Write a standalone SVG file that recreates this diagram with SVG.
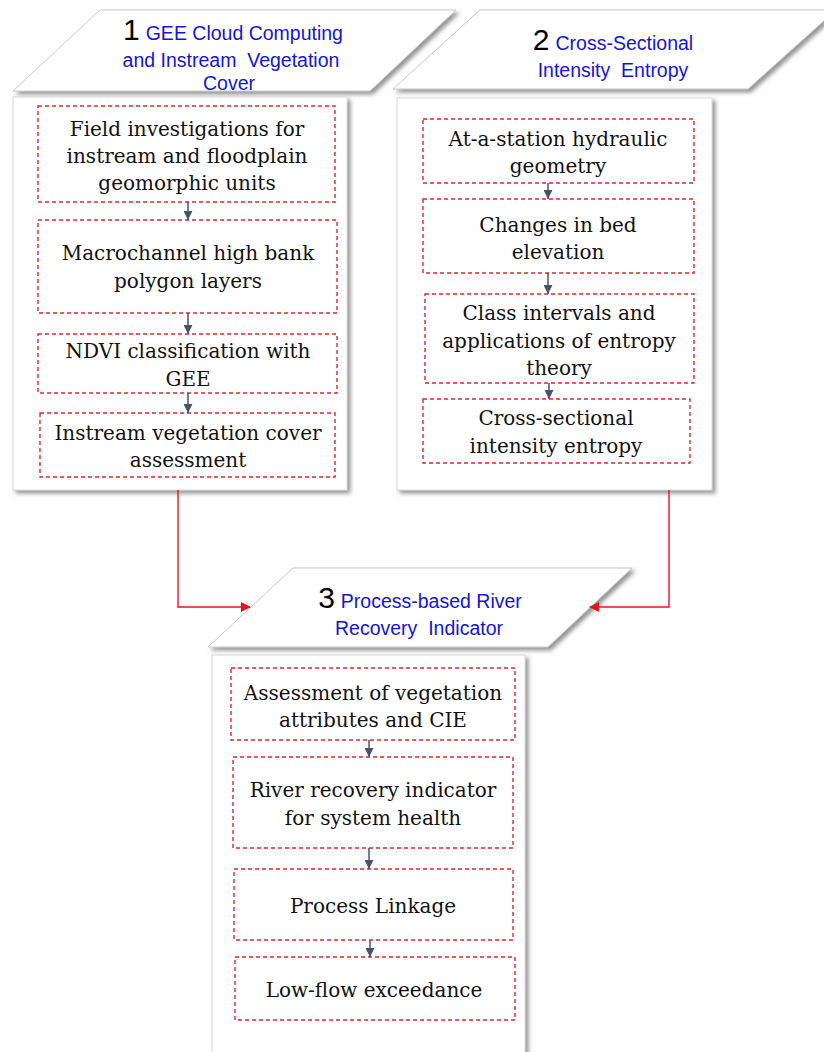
<svg xmlns="http://www.w3.org/2000/svg" width="824" height="1052" viewBox="0 0 824 1052">
<defs>
<filter id="sh" x="-10%" y="-10%" width="125%" height="125%">
<feDropShadow dx="3" dy="3" stdDeviation="2" flood-color="#666" flood-opacity="0.7"/>
</filter>
<marker id="ah" viewBox="0 0 10 10" refX="10" refY="5" markerWidth="10" markerHeight="9" orient="auto" markerUnits="userSpaceOnUse">
<path d="M0,0 L10,5 L0,10 z" fill="#44546A"/>
</marker>
<marker id="ahr" viewBox="0 0 10 10" refX="9" refY="5" markerWidth="11" markerHeight="10" orient="auto" markerUnits="userSpaceOnUse">
<path d="M0,0 L10,5 L0,10 z" fill="#E8141B"/>
</marker>
<style>
.para{fill:#fff;stroke:#c8c8c8;stroke-width:1;filter:url(#sh)}
.panel{fill:#fff;stroke:#d8d8d8;stroke-width:1;filter:url(#sh)}
.dbox{fill:#fff;stroke:#D9272E;stroke-width:1.4;stroke-dasharray:4 3}
.num{font-family:"Liberation Sans",Arial,sans-serif;font-size:30px;fill:#000}
.hd{font-family:"Liberation Sans",Arial,sans-serif;font-size:19.5px;fill:#1414D8}
.t{font-family:"DejaVu Serif",serif;font-size:20px;fill:#111;text-anchor:middle}
.sm{stroke:#44546A;stroke-width:1.5;fill:none;marker-end:url(#ah)}
.red{stroke:#E8141B;stroke-width:1.4;fill:none;marker-end:url(#ahr)}
</style>
</defs>

<g id="header1">
<polygon class="para" points="100,10 456,10 370,91 13,91"/>
<text x="233" y="40" text-anchor="middle"><tspan class="num">1</tspan><tspan class="hd" dx="6">GEE Cloud Computing</tspan></text>
<text class="hd" x="231" y="67" text-anchor="middle">and Instream&#160; Vegetation</text>
<text class="hd" x="229" y="90" text-anchor="middle">Cover</text>
</g>

<g id="header2">
<polygon class="para" points="480,10 836,10 748,89 393,89"/>
<text x="613" y="50" text-anchor="middle"><tspan class="num">2</tspan><tspan class="hd" dx="6">Cross-Sectional</tspan></text>
<text class="hd" x="613" y="77" text-anchor="middle">Intensity&#160; Entropy</text>
</g>

<g id="panel1">
<rect class="panel" x="13" y="97" width="334" height="393"/>
</g>
<g id="panel2">
<rect class="panel" x="397" y="98" width="315" height="392"/>
</g>

<g id="p1a"><rect class="dbox" x="38" y="106" width="297" height="96"/>
<text class="t" x="187" y="136">Field investigations for</text>
<text class="t" x="187" y="163">instream and floodplain</text>
<text class="t" x="187" y="190">geomorphic units</text></g>
<g id="p1b"><rect class="dbox" x="38" y="220" width="299" height="93"/>
<text class="t" x="188" y="260">Macrochannel high bank</text>
<text class="t" x="188" y="288">polygon layers</text></g>
<g id="p1c"><rect class="dbox" x="38" y="334" width="299" height="59"/>
<text class="t" x="188" y="358">NDVI classification with</text>
<text class="t" x="188" y="386">GEE</text></g>
<g id="p1d"><rect class="dbox" x="40" y="413" width="295" height="64"/>
<text class="t" x="188" y="440">Instream vegetation cover</text>
<text class="t" x="188" y="467">assessment</text></g>

<g id="p2a"><rect class="dbox" x="423" y="119" width="271" height="64"/>
<text class="t" x="558" y="146">At-a-station hydraulic</text>
<text class="t" x="558" y="173">geometry</text></g>
<g id="p2b"><rect class="dbox" x="423" y="199" width="271" height="74"/>
<text class="t" x="558" y="232">Changes in bed</text>
<text class="t" x="558" y="259">elevation</text></g>
<g id="p2c"><rect class="dbox" x="425" y="294" width="269" height="89"/>
<text class="t" x="559" y="320">Class intervals and</text>
<text class="t" x="559" y="348">applications of entropy</text>
<text class="t" x="559" y="375">theory</text></g>
<g id="p2d"><rect class="dbox" x="423" y="399" width="267" height="64"/>
<text class="t" x="556" y="425">Cross-sectional</text>
<text class="t" x="556" y="453">intensity entropy</text></g>

<g id="header3">
<polygon class="para" points="293,568 632,568 548,647 208,647"/>
<text x="420" y="608" text-anchor="middle"><tspan class="num">3</tspan><tspan class="hd" dx="6">Process-based River</tspan></text>
<text class="hd" x="419" y="635" text-anchor="middle">Recovery&#160; Indicator</text>
</g>

<g id="panel3">
<rect class="panel" x="212" y="655" width="313" height="400"/>
</g>

<g id="p3a"><rect class="dbox" x="231" y="668" width="284" height="72"/>
<text class="t" x="373" y="700">Assessment of vegetation</text>
<text class="t" x="373" y="727">attributes and CIE</text></g>
<g id="p3b"><rect class="dbox" x="233" y="757" width="280" height="91"/>
<text class="t" x="373" y="797">River recovery indicator</text>
<text class="t" x="373" y="825">for system health</text></g>
<g id="p3c"><rect class="dbox" x="234" y="869" width="279" height="71"/>
<text class="t" x="373" y="913">Process Linkage</text></g>
<g id="p3d"><rect class="dbox" x="235" y="957" width="280" height="63"/>
<text class="t" x="374" y="997">Low-flow exceedance</text></g>

<g id="connectors">
<line class="sm" x1="188" y1="202" x2="188" y2="220"/>
<line class="sm" x1="188" y1="313" x2="188" y2="334"/>
<line class="sm" x1="188" y1="393" x2="188" y2="413"/>
<line class="sm" x1="548" y1="183" x2="548" y2="199"/>
<line class="sm" x1="548" y1="273" x2="548" y2="294"/>
<line class="sm" x1="549" y1="383" x2="549" y2="399"/>
<line class="sm" x1="369" y1="740" x2="369" y2="757"/>
<line class="sm" x1="369" y1="848" x2="369" y2="869"/>
<line class="sm" x1="370" y1="940" x2="370" y2="957"/>
<polyline class="red" points="178,490 178,607 250,607"/>
<polyline class="red" points="669,490 669,607 590,607"/>
</g>
</svg>
